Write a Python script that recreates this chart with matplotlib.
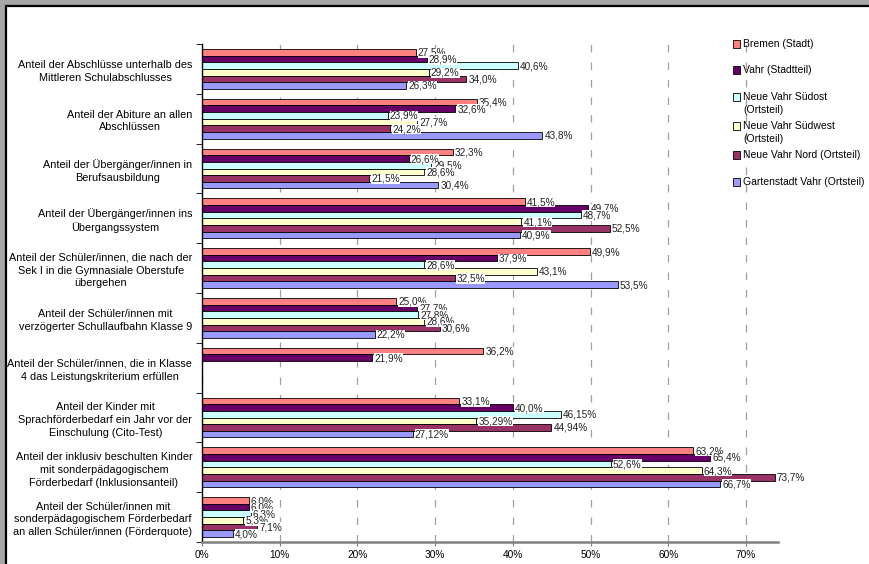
import numpy as np
import matplotlib.pyplot as plt
from matplotlib.patches import Rectangle

plt.rcParams['font.family'] = ['Liberation Sans', 'DejaVu Sans']

# categories, top to bottom
categories = [
    "Anteil der Abschlüsse unterhalb des\nMittleren Schulabschlusses",
    "Anteil der Abiture an allen\nAbschlüssen",
    "Anteil der Übergänger/innen in\nBerufsausbildung",
    "Anteil der Übergänger/innen ins\nÜbergangssystem",
    "Anteil der Schüler/innen, die nach der\nSek I in die Gymnasiale Oberstufe\nübergehen",
    "Anteil der Schüler/innen mit\nverzögerter Schullaufbahn Klasse 9",
    "Anteil der Schüler/innen, die in Klasse\n4 das Leistungskriterium erfüllen",
    "Anteil der Kinder mit\nSprachförderbedarf ein Jahr vor der\nEinschulung (Cito-Test)",
    "Anteil der inklusiv beschulten Kinder\nmit sonderpädagogischem\nFörderbedarf (Inklusionsanteil)",
    "Anteil der Schüler/innen mit\nsonderpädagogischem Förderbedarf\nan allen Schüler/innen (Förderquote)",
]

series = ["Bremen (Stadt)", "Vahr (Stadtteil)", "Neue Vahr Südost\n(Ortsteil)",
          "Neue Vahr Südwest\n(Ortsteil)", "Neue Vahr Nord (Ortsteil)",
          "Gartenstadt Vahr (Ortsteil)"]
colors = ["#FF8080", "#660066", "#CCFFFF", "#FFFFCC", "#993366", "#9999FF"]

bremen = [27.5, 35.4, 32.3, 41.5, 49.9, 25.0, 36.2, 33.1, 63.2, 6.0]
vahr = [28.9, 32.6, 26.6, 49.7, 37.9, 27.7, 21.9, 40.0, 65.4, 6.0]
suedost = [40.6, 23.9, 29.5, 48.7, 28.6, 27.8, np.nan, 46.15, 52.6, 6.3]
suedwest = [29.2, 27.7, 28.6, 41.1, 43.1, 28.6, np.nan, 35.29, 64.3, 5.3]
nord = [34.0, 24.2, 21.5, 52.5, 32.5, 30.6, np.nan, 44.94, 73.7, 7.1]
gartenstadt = [26.3, 43.8, 30.4, 40.9, 53.5, 22.2, np.nan, 27.12, 66.7, 4.0]
values = [bremen, vahr, suedost, suedwest, nord, gartenstadt]


def fmt(v):
    d = 1 if round(v, 1) == v else 2
    return f"{v:.{d}f}%".replace(".", ",")


W, H = 870, 564
fig = plt.figure(figsize=(W / 100, H / 100), dpi=100, facecolor="#a6a6a6")
fig.patches.append(Rectangle((6 / W, -0.1), 1.2, (H - 6) / H + 0.1,
                             transform=fig.transFigure, facecolor="white",
                             edgecolor="black", linewidth=1.6, zorder=-10))

ax = fig.add_axes([202 / W, 22 / H, (778 - 202) / W, (542 - 44) / H])
ax.set_zorder(1)
ax.set_facecolor("none")

y = np.arange(len(categories))
h = 0.133
for i, (vals, col) in enumerate(zip(values, colors)):
    pos = y + (i - 2.5) * h
    ax.barh(pos, vals, height=h, color=col, edgecolor="black", linewidth=0.6, zorder=2)
    for p, v in zip(pos, vals):
        if np.isnan(v):
            continue
        ax.text(v + 0.25, p + 0.01, fmt(v), ha="left", va="center", fontsize=7.2,
                color="#222222", zorder=3,
                bbox=dict(facecolor="white", edgecolor="none", pad=0.1))

ax.set_xlim(0, 74.1)
ax.set_ylim(9.5, -0.5)
ax.set_xticks(np.arange(0, 71, 10))
ax.set_xticklabels([f"{t}%" for t in range(0, 71, 10)], fontsize=7.3)
ax.set_yticks(y)
ax.set_yticklabels(categories, fontsize=7.8, ha="right", multialignment="center",
                   linespacing=1.35)
ax.set_yticks(np.arange(-0.5, 10, 1), minor=True)
ax.tick_params(axis="y", which="major", length=0, pad=7)
ax.tick_params(axis="y", which="minor", length=4, direction="out", color="black")
ax.tick_params(axis="x", length=3, color="#808080", pad=3)

ax.grid(axis="x", color="#a0a0a0", linestyle=(0, (6, 8)), linewidth=0.9, zorder=1)
for s in ["top", "right"]:
    ax.spines[s].set_visible(False)
ax.spines["left"].set_color("black")
ax.spines["left"].set_linewidth(1.0)
ax.spines["bottom"].set_color("#808080")
ax.spines["bottom"].set_linewidth(1.8)

# legend
legend_y = [44, 70, 97, 126, 155, 182]
for name, col, ly in zip(series, colors, legend_y):
    fig.patches.append(Rectangle((733 / W, (H - ly - 3.5) / H), 7 / W, 7 / H,
                                 transform=fig.transFigure, facecolor=col,
                                 edgecolor="black", linewidth=0.6))
    fig.text(743 / W, (H - ly + 5) / H, name, ha="left", va="top", fontsize=7.5,
             linespacing=1.35)

fig.savefig("out.png", dpi=100, facecolor=fig.get_facecolor())
